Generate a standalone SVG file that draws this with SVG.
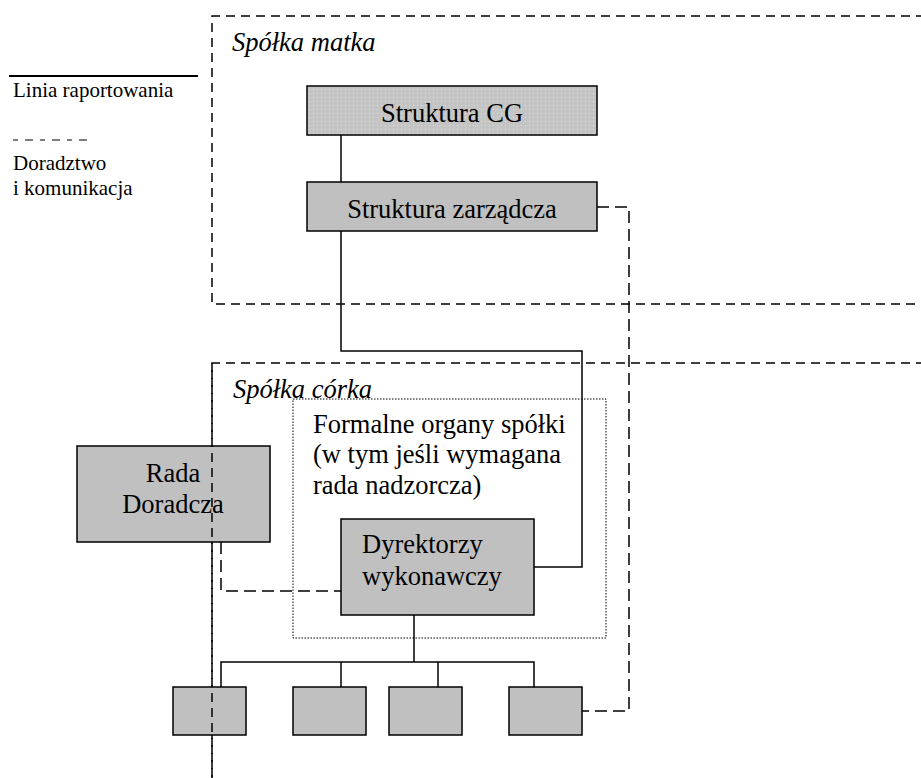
<svg xmlns="http://www.w3.org/2000/svg" width="921" height="778" viewBox="0 0 921 778">
<style>
.t{font-family:"Liberation Serif","Times New Roman",serif;font-size:26.5px;fill:#000}
.i{font-style:italic}
.lg{font-family:"Liberation Serif","Times New Roman",serif;font-size:21px;fill:#000}
.box{fill:#c0c0c0;stroke:#000;stroke-width:1.5}
.solid{fill:none;stroke:#000;stroke-width:1.5}
.dash{fill:none;stroke:#000;stroke-width:1.5;stroke-dasharray:9 6}
.ldash{fill:none;stroke:#000;stroke-width:1.5;stroke-dasharray:12 6}
</style>
<defs>
<pattern id="dots" width="4" height="4" patternUnits="userSpaceOnUse">
<rect width="4" height="4" fill="#c4c4c4"/>
<rect x="1" y="1" width="1" height="1" fill="#dedede"/>
</pattern>
</defs>
<rect width="921" height="778" fill="#fff"/>

<g id="legend">
<line x1="9" y1="76" x2="198" y2="76" stroke="#000" stroke-width="2"/>
<text class="lg" x="13" y="97">Linia raportowania</text>
<line x1="13" y1="140" x2="93" y2="140" stroke="#000" stroke-width="1.2" stroke-dasharray="5 7 8 7"/>
<text class="lg" x="13" y="170">Doradztwo</text>
<text class="lg" x="13" y="195">i komunikacja</text>
</g>

<g id="spolka-matka">
<path class="dash" d="M925 16 H212 V304 H925"/>
<text class="t i" x="232" y="51">Spółka matka</text>
</g>

<g id="spolka-corka">
<path class="dash" d="M925 363 H212 V780"/>
<text class="t i" x="233" y="398">Spółka córka</text>
</g>

<g id="formalne-organy">
<rect x="293" y="399" width="313" height="239" fill="none" stroke="#000" stroke-width="1" stroke-dasharray="1.5 1.5"/>
<text class="t" x="313" y="433">Formalne organy spółki</text>
<text class="t" x="313" y="463">(w tym jeśli wymagana</text>
<text class="t" x="313" y="494">rada nadzorcza)</text>
</g>

<g id="connectors">
<line class="solid" x1="341" y1="135" x2="341" y2="182"/>
<path class="solid" d="M341 231 V351 H582 V567 H534"/>
<path class="ldash" d="M597 207 H629 V711 H582"/>
<path class="ldash" d="M221 542 V591 H341"/>
<line class="solid" x1="414" y1="615" x2="414" y2="662"/>
<path class="solid" d="M221 687 V662 H534 V687"/>
<line class="solid" x1="341" y1="662" x2="341" y2="687"/>
<line class="solid" x1="438" y1="662" x2="438" y2="687"/>
</g>

<g id="struktura-cg">
<rect x="307" y="86" width="290" height="49" fill="url(#dots)" stroke="#000" stroke-width="1.5"/>
<text class="t" x="452" y="122" text-anchor="middle">Struktura CG</text>
</g>

<g id="struktura-zarzadcza">
<rect class="box" x="307" y="182" width="290" height="49"/>
<text class="t" x="452" y="218" text-anchor="middle">Struktura zarządcza</text>
</g>

<g id="rada-doradcza">
<rect class="box" x="77" y="446" width="193" height="96"/>
<text class="t" x="173" y="482" text-anchor="middle">Rada</text>
<text class="t" x="173" y="513" text-anchor="middle">Doradcza</text>
</g>

<g id="dyrektorzy">
<rect class="box" x="341" y="519" width="193" height="96"/>
<text class="t" x="362" y="553">Dyrektorzy</text>
<text class="t" x="362" y="585">wykonawczy</text>
</g>

<g id="unit-1"><rect class="box" x="173" y="687" width="73" height="48"/></g>
<g id="unit-2"><rect class="box" x="293" y="687" width="73" height="48"/></g>
<g id="unit-3"><rect class="box" x="389" y="687" width="73" height="48"/></g>
<g id="unit-4"><rect class="box" x="509" y="687" width="73" height="48"/></g>

<path class="dash" d="M212 363 V780"/>
</svg>
